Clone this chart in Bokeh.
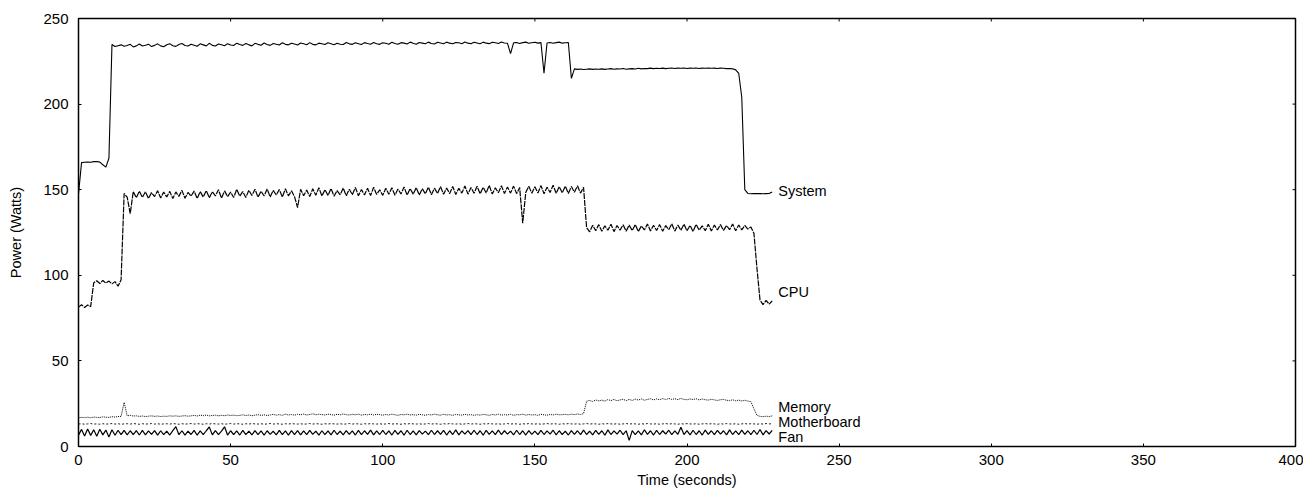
import math
from bokeh.plotting import figure
from bokeh.models import Range1d, SingleIntervalTicker, ColumnDataSource
from bokeh.core.properties import value
from bokeh.embed import file_html
from bokeh.resources import INLINE

# ---------------- data ----------------
seconds = list(range(0, 229))

system = [
    147.5, 165.8, 166.0, 166.2, 166.0, 166.4, 166.5, 166.1, 164.6, 163.2,
    168.4,
    234.8, 233.6, 234.1, 234.6, 233.8, 234.2, 234.9, 233.4, 234.0, 235.1,
    233.9, 234.4, 235.0, 233.6, 234.3, 235.2, 234.0, 233.5, 234.7, 235.3,
    234.1, 233.7, 234.8, 235.4, 234.2, 233.9, 235.0, 234.4, 233.8, 235.2,
    234.6, 234.0, 235.5, 234.3, 233.9, 235.1, 234.7, 234.1, 235.3, 234.5,
    234.2, 235.6, 234.8, 234.3, 235.4, 234.6, 234.0, 235.5, 234.9, 234.4,
    235.7, 234.8, 234.3, 235.4, 235.0, 234.5, 235.8, 234.9, 234.6, 235.5,
    235.1, 234.5, 235.7, 235.2, 234.7, 235.9, 234.9, 234.6, 235.6, 235.2,
    234.8, 235.8, 235.3, 234.7, 235.6, 235.0, 234.8, 236.0, 235.2, 234.9,
    235.8, 235.3, 234.8, 235.9, 235.4, 235.0, 236.0, 235.3, 234.9, 235.8,
    235.5, 235.0, 236.1, 235.4, 235.0, 235.9, 235.6, 235.1, 236.2, 235.5,
    235.0, 236.0, 235.6, 235.2, 236.2, 235.4, 235.1, 236.1, 235.7, 235.2,
    236.2, 235.6, 235.2, 236.0, 235.8, 235.3, 236.3, 235.6, 235.2, 236.1,
    235.7, 235.3, 236.2, 235.6, 235.3, 236.1, 235.8, 235.4, 236.3, 235.7,
    235.5, 229.5, 235.8, 236.0, 235.4, 235.9, 236.2, 235.5, 235.8, 236.1,
    235.6, 235.9, 218.0, 235.7, 236.0, 235.5, 235.9, 236.2, 235.6, 235.8,
    236.0, 215.0, 220.6,
    220.3, 220.5, 220.2, 220.4, 220.6, 220.3, 220.5,
    220.4, 220.6, 220.3, 220.5, 220.7, 220.4, 220.6, 220.5, 220.8, 220.4,
    220.6, 220.7, 220.5, 220.9, 220.6, 220.8, 220.7, 221.0, 220.7, 220.9,
    220.8, 221.0, 220.7, 220.9, 221.1, 220.8, 221.0, 220.9, 221.1, 220.8,
    221.0, 220.9, 221.1, 220.8, 221.0, 220.9, 221.1, 220.9, 221.0, 220.8,
    221.0, 220.9, 220.7, 220.8, 220.6,
    220.0, 218.0, 204.0, 150.0, 147.8,
    147.6, 147.8, 147.7, 147.8, 147.6, 147.7, 147.8, 148.6,
]

cpu = [
    81.4, 82.8, 81.2, 82.6, 81.7,
    95.6,
    96.8, 95.2, 97.0, 95.4, 96.6, 95.0, 96.3,
    93.6, 97.4,
    147.8, 145.6, 136.0, 148.9, 145.3, 149.1,
    145.6, 148.8, 144.9, 148.3, 146.0, 149.4, 145.2, 148.6, 145.8, 149.0,
    144.8, 148.7, 146.1, 149.6, 145.0, 148.4, 146.3, 149.2, 144.9, 148.9,
    145.7, 149.5, 145.3, 148.8, 146.4, 150.0, 145.1, 149.3, 146.0, 148.6,
    145.4, 150.2, 146.2, 148.9, 145.5, 149.7, 146.6, 150.3, 145.6, 149.1,
    146.3, 150.4, 145.8, 149.6, 146.9, 150.1, 145.7, 150.6, 146.4, 149.3,
    146.0, 139.5, 150.2, 146.5, 149.8, 146.0, 150.5, 146.8, 151.2, 146.3,
    150.0, 146.6, 150.7, 146.2, 149.5, 147.0, 151.0, 146.4, 150.3, 147.1,
    151.3, 146.5, 150.1, 146.9, 150.8, 146.6, 151.4, 147.2, 150.0, 146.7,
    150.9, 147.3, 151.1, 146.8, 150.4, 147.5, 151.6, 146.9, 150.7, 147.4,
    151.2, 146.9, 150.6, 147.6, 151.5, 147.1, 150.9, 147.8, 151.8, 147.3,
    151.0, 147.7, 151.9, 147.2, 150.8, 148.0, 152.2, 147.4, 151.3, 147.9,
    152.0, 147.6, 151.4, 148.1, 152.5, 147.5, 151.1, 148.2, 152.3, 147.8,
    151.6, 148.0, 152.1, 147.7, 151.2,
    130.5,
    148.3, 152.0, 147.9, 151.7,
    148.1, 152.4, 147.6, 151.5, 148.4, 152.6, 147.9, 151.8, 148.2, 152.1,
    147.8, 151.9, 148.5, 152.3, 148.0, 151.4,
    127.8,
    125.4, 129.2, 126.0, 129.6, 125.7, 128.9, 126.3, 129.8, 125.5, 129.1,
    126.4, 129.5, 125.8,
    129.3, 126.1, 129.7, 125.6, 128.8, 126.5, 130.0, 125.9, 129.2, 126.2,
    129.6, 125.7, 129.0, 126.6, 130.1, 125.8, 129.4, 126.3, 129.9, 126.0,
    129.1, 125.6, 129.7, 126.4, 128.9, 126.1, 129.8, 125.9, 129.3, 126.5,
    129.6, 126.2, 129.0, 126.7, 129.9, 126.0, 129.4, 126.5, 129.1, 127.0,
    128.2,
    124.5, 104.0, 85.5,
    82.9, 85.3, 83.2, 85.0,
]

memory = [
    16.8, 17.0, 16.9, 17.1, 16.8, 17.2, 17.0, 16.9, 17.3, 17.1,
    17.0, 17.4, 17.2, 17.5, 17.6, 25.8, 17.9,
    18.2, 17.8, 17.9, 17.6, 17.8, 17.5, 17.7, 17.9, 17.6, 17.8, 17.5, 17.7, 17.6, 17.9,
    17.7, 17.9, 17.6, 17.8, 18.0, 17.7, 17.9, 18.2, 17.8, 18.3,
    18.0, 18.4, 17.9, 18.1, 18.3, 17.9, 18.2, 18.0, 18.4, 18.1,
    18.3, 18.0, 18.2, 18.5, 18.1, 18.4, 18.0, 18.3, 18.6, 18.2,
    18.5, 18.1, 18.4, 18.8, 18.3, 18.6, 18.2, 18.9, 18.4, 18.7,
    18.3, 18.8, 18.5, 19.0, 18.4, 18.7, 19.1, 18.5, 18.9, 18.6,
    18.4, 18.9, 18.6, 18.3, 18.8, 18.5, 19.0, 18.6, 18.4, 18.8,
    18.5, 18.9, 18.3, 18.7, 18.5, 18.9, 18.4, 18.8, 18.6, 18.3,
    18.7, 18.4, 18.9, 18.5, 18.2, 18.7, 18.5, 18.9, 18.4, 18.6,
    18.3, 18.8, 18.5, 18.2, 18.7, 18.4, 18.9, 18.5, 18.3, 18.8,
    18.4, 18.6, 18.2, 18.7, 18.5, 18.3, 18.8, 18.4, 18.6, 18.2,
    18.6, 18.3, 18.8, 18.5, 18.2, 18.7, 18.4, 18.9, 18.3, 18.6,
    18.4, 18.8, 18.2, 18.6, 18.5, 18.9, 18.3, 18.7, 18.4, 18.6,
    18.2, 18.8, 18.5, 18.3, 18.7, 18.4, 18.9, 18.5, 18.6, 18.8,
    18.5, 18.9, 18.6, 19.0, 18.7, 19.2,
    26.4,
    26.9, 26.3, 27.2, 26.6, 27.1, 26.5, 27.4, 26.8, 27.5, 26.7, 27.2, 27.6, 26.8,
    27.5, 26.9, 27.7, 27.1, 27.8, 27.0, 27.5, 27.9, 27.2, 27.8,
    27.3, 28.0, 27.4, 28.1, 27.5, 27.9, 27.4, 28.1, 27.5, 27.3,
    27.8, 27.4, 27.9, 27.2, 27.7, 27.3, 27.1, 27.6, 27.2, 26.9,
    27.3, 27.5, 27.0, 26.8, 27.3, 26.7, 27.1, 26.6, 27.0, 26.5, 26.2,
    22.0, 18.2,
    17.6, 17.4, 17.7, 17.5, 17.9,
]

motherboard = [
    13.1, 13.3, 13.0, 13.2, 13.4, 13.1, 13.2, 13.0, 13.3, 13.1,
    13.2, 13.4, 13.1, 13.3, 13.0, 13.2, 13.3, 13.1, 13.4, 13.2,
    13.0, 13.3, 13.1, 13.2, 13.4, 13.1, 13.3, 13.0, 13.2, 13.3,
    13.1, 13.4, 13.2, 13.0, 13.3, 13.1, 13.2, 13.4, 13.1, 13.3,
    13.2, 13.0, 13.3, 13.1, 13.4, 13.2, 13.1, 13.3, 13.0, 13.2,
    13.4, 13.1, 13.3, 13.2, 13.0, 13.3, 13.1, 13.4, 13.2, 13.1,
    13.3, 13.0, 13.2, 13.4, 13.1, 13.3, 13.2, 13.0, 13.3, 13.1,
    13.4, 13.2, 13.1, 13.3, 13.0, 13.2, 13.4, 13.1, 13.3, 13.2,
    13.0, 13.3, 13.1, 13.4, 13.2, 13.1, 13.3, 13.0, 13.2, 13.4,
    13.1, 13.3, 13.2, 13.0, 13.3, 13.1, 13.4, 13.2, 13.1, 13.3,
    13.0, 13.2, 13.4, 13.1, 13.3, 13.2, 13.0, 13.3, 13.1, 13.4,
    13.2, 13.1, 13.3, 13.0, 13.2, 13.4, 13.1, 13.3, 13.2, 13.0,
    13.3, 13.1, 13.4, 13.2, 13.1, 13.3, 13.0, 13.2, 13.4, 13.1,
    13.3, 13.2, 13.0, 13.3, 13.1, 13.4, 13.2, 13.1, 13.3, 13.0,
    13.2, 13.4, 13.1, 13.3, 13.2, 13.0, 13.3, 13.1, 13.4, 13.2,
    13.1, 13.3, 13.0, 13.2, 13.4, 13.1, 13.3, 13.2, 13.0, 13.3,
    13.1, 13.4, 13.2, 13.1, 13.3, 13.0, 13.2, 13.4, 13.1, 13.3,
    13.2, 13.0, 13.3, 13.1, 13.4, 13.2, 13.1, 13.3, 13.0, 13.2,
    13.4, 13.1, 13.3, 13.2, 13.0, 13.3, 13.1, 13.4, 13.2, 13.1,
    13.3, 13.0, 13.2, 13.4, 13.1, 13.3, 13.2, 13.0, 13.3, 13.1,
    13.4, 13.2, 13.1, 13.3, 13.0, 13.2, 13.4, 13.1, 13.3, 13.2,
    13.0, 13.3, 13.1, 13.4, 13.2, 13.1, 13.3, 13.0, 13.2, 13.4,
    13.1, 13.3, 13.2, 13.0, 13.3, 13.1, 13.4, 13.2, 13.3,
]

fan = [
    6.6, 10.0, 6.2, 10.2, 6.5, 9.8, 6.0, 10.1, 6.8, 9.6, 5.6,
    9.8, 6.6, 9.5, 6.9, 9.4, 6.8, 9.2, 7.0, 9.3, 6.7,
    9.4, 6.8, 9.1, 7.1, 9.3, 6.6, 9.2, 6.9, 9.0, 6.7,
    9.3, 11.6, 6.9, 9.2, 6.7, 9.0, 7.0, 9.4, 6.6, 9.1,
    6.9, 9.2, 11.4, 6.8, 9.3, 6.9, 9.0, 11.5, 6.7, 9.2,
    7.0, 9.1, 6.7, 9.4, 6.9, 9.0, 6.8, 9.3, 7.0, 9.1,
    6.7, 9.2, 7.1, 9.0, 6.8, 9.4, 6.9, 9.1, 6.6, 9.3,
    7.0, 9.3, 6.8, 9.1, 6.9, 9.4, 7.1, 9.0, 6.7, 9.2,
    6.9, 9.1, 6.8, 9.5, 7.0, 9.0, 6.8, 9.3, 7.1, 9.1,
    6.7, 9.4, 6.9, 9.2, 7.1, 9.6, 6.8, 9.1, 7.0, 9.4,
    7.0, 9.1, 6.7, 9.4, 7.1, 9.2, 6.6, 9.5, 7.0, 9.1,
    6.8, 9.3, 7.2, 9.0, 6.9, 9.5, 7.0, 9.2, 7.1, 9.4,
    6.7, 9.2, 7.0, 9.7, 6.8, 9.1, 7.2, 9.3, 6.9, 9.5,
    7.0, 9.2, 6.6, 9.4, 7.1, 9.1, 6.9, 9.6, 7.0, 9.2,
    7.2, 9.0, 6.8, 9.5, 7.0, 9.2, 6.7, 9.3, 7.1, 9.0,
    6.9, 9.4, 7.0, 9.1, 7.2, 9.5, 6.8, 9.2, 7.0, 9.0,
    6.7, 9.3, 7.1, 9.2, 6.9, 9.6, 7.0, 9.0, 6.8, 9.4,
    7.1, 9.2, 6.6, 9.7, 7.0, 9.1, 7.2, 9.5, 6.9, 9.2,
    3.6, 9.3, 7.0, 9.1, 6.8, 9.8, 7.1, 9.2, 6.7, 9.4,
    7.0, 9.2, 7.3, 9.5, 6.9, 9.1, 7.1, 11.3, 7.0, 9.3,
    6.8, 9.5, 7.0, 9.2, 6.7, 9.6, 7.1, 9.2, 6.9, 9.4,
    7.2, 9.2, 6.8, 9.7, 7.0, 9.1, 6.9, 9.6, 7.1, 9.2,
    6.9, 9.5, 7.0, 9.9, 6.8, 9.3, 7.3, 9.4,
]

series_names = ["System", "CPU", "Memory", "Motherboard", "Fan"]
label_levels = [149.5, 90.0, 22.8, 14.6, 5.3]   # where the end labels sit (Watts)
x_ticks = [0, 50, 100, 150, 200, 250, 300, 350, 400]
y_ticks = [0, 50, 100, 150, 200, 250]

for s in (system, cpu, memory, motherboard, fan):
    assert len(s) == len(seconds), len(s)

# ---------------- figure ----------------
FONT = "Liberation Sans"

p = figure(
    width=1303, height=490,
    x_range=Range1d(x_ticks[0], x_ticks[-1]),
    y_range=Range1d(y_ticks[0], y_ticks[-1]),
    output_backend="svg", toolbar_location=None,
    min_border_left=78, min_border_right=8,
    min_border_top=18, min_border_bottom=44,
)
p.background_fill_color = "white"
p.border_fill_color = "white"
p.outline_line_color = "black"
p.outline_line_width = 1.5
p.xgrid.visible = False
p.ygrid.visible = False

for ax in (p.xaxis[0], p.yaxis[0]):
    ax.axis_line_color = None
    ax.major_tick_in = 3
    ax.major_tick_out = 0
    ax.minor_tick_in = 0
    ax.minor_tick_out = 0
    ax.major_tick_line_color = "black"
    ax.major_label_text_font = FONT
    ax.major_label_text_font_size = "15px"
    ax.major_label_text_color = "black"
    ax.axis_label_text_font = FONT
    ax.axis_label_text_font_size = "14.5px"
    ax.axis_label_text_font_style = "normal"
    ax.axis_label_text_color = "black"

p.xaxis[0].ticker = SingleIntervalTicker(interval=50)
p.yaxis[0].ticker = SingleIntervalTicker(interval=50)
p.xaxis[0].axis_label = "Time (seconds)"
p.yaxis[0].axis_label = "Power (Watts)"
p.xaxis[0].major_label_standoff = 8
p.xaxis[0].axis_label_standoff = 4
p.yaxis[0].major_label_standoff = 10
p.yaxis[0].axis_label_standoff = 16

# mirrored inward ticks on the top and right edges of the frame
p.ray(x=x_ticks, y=[y_ticks[-1]] * len(x_ticks), length=3, length_units="screen",
      angle=-math.pi / 2, line_color="black", line_width=1)
p.ray(x=[x_ticks[-1]] * len(y_ticks), y=y_ticks, length=3, length_units="screen",
      angle=math.pi, line_color="black", line_width=1)

# series
p.line(seconds, system, line_color="black", line_width=1.1)
p.line(seconds, cpu, line_color="black", line_width=1.2, line_dash="6 1")
p.line(seconds, memory, line_color="black", line_width=1.0, line_dash="1 1")
p.line(seconds, motherboard, line_color="black", line_width=0.9, line_dash="2 2")
p.line(seconds, fan, line_color="black", line_width=1.2)

# end labels
label_src = ColumnDataSource(dict(
    x=[seconds[-1] + 2] * len(series_names),
    y=label_levels,
    text=series_names,
))
p.text(x="x", y="y", text="text", source=label_src,
       text_font=value(FONT), text_font_size="14.5px",
       text_align="left", text_baseline="middle", text_color="black")

open("out.html", "w").write(file_html(p, INLINE))
